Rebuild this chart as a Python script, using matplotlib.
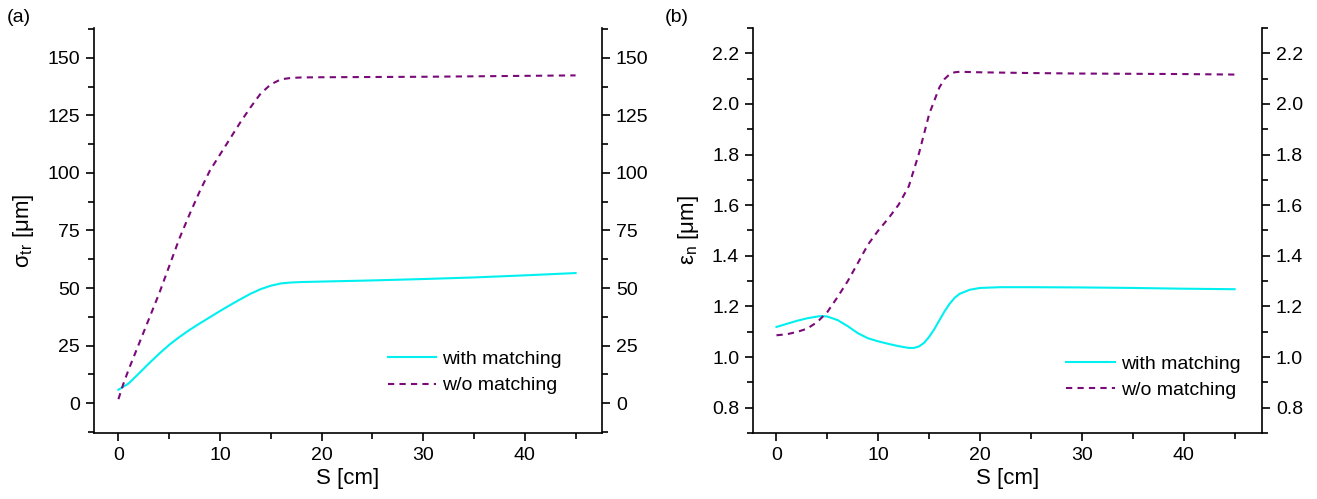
"""Beam size and emittance along S, with and without matching (two panels)."""

import matplotlib
matplotlib.use("Agg")
import matplotlib.pyplot as plt
from matplotlib.ticker import MultipleLocator

plt.rcParams["font.family"] = ["Liberation Sans", "DejaVu Sans"]
plt.rcParams["font.size"] = 14
plt.rcParams["mathtext.fontset"] = "custom"
plt.rcParams["mathtext.rm"] = "Liberation Sans"
plt.rcParams["mathtext.it"] = "Liberation Sans:italic"

CYAN = "#00f0f0"
PURPLE = "#7a0a7a"

# (a) transverse beam size sigma_tr [um] vs S [cm]
s_a_match = [0, 1, 2, 3, 4, 5, 6, 7, 8, 9, 10, 11, 12, 13, 14, 15, 16, 17,
             18, 20, 25, 30, 35, 40, 45]
sig_match = [5.8, 8.5, 12.8, 17.2, 21.4, 25.3, 28.7, 31.8, 34.6, 37.3, 40.0,
             42.6, 45.1, 47.5, 49.5, 51.0, 52.0, 52.4, 52.6, 52.8, 53.3, 53.9,
             54.6, 55.5, 56.5]
s_a_nomatch = [0, 0.5, 1, 1.5, 2, 2.5, 3, 3.5, 4, 5, 6, 7, 8, 9, 10, 11, 12,
               13, 14, 15, 16, 17, 18, 20, 25, 30, 35, 40, 45]
sig_nomatch = [1.7, 8.5, 14.5, 20.0, 25.5, 31.0, 36.5, 42.0, 47.5, 59.5, 71.5,
               82.0, 92.0, 101.0, 108.0, 115.0, 122.0, 128.5, 134.5, 138.5,
               140.7, 141.3, 141.5, 141.6, 141.7, 141.8, 142.0, 142.2, 142.4]

# (b) normalized emittance eps_n [um] vs S [cm]
s_b_match = [0, 1, 2, 3, 4, 4.5, 5, 6, 7, 8, 9, 10, 11, 12, 13, 13.5, 14,
             14.5, 15, 15.5, 16, 16.5, 17, 17.5, 18, 19, 20, 22, 25, 30, 35,
             40, 45]
eps_match = [1.119, 1.131, 1.143, 1.153, 1.160, 1.162, 1.160, 1.146, 1.122,
             1.094, 1.074, 1.062, 1.052, 1.043, 1.036, 1.036, 1.042, 1.056,
             1.080, 1.110, 1.145, 1.180, 1.210, 1.234, 1.250, 1.266, 1.273,
             1.276, 1.276, 1.275, 1.273, 1.270, 1.268]
s_b_nomatch = [0, 1, 2, 3, 4, 5, 6, 7, 8, 9, 10, 11, 12, 13, 14, 15, 16,
               16.5, 17, 17.5, 18, 20, 25, 30, 35, 40, 45]
eps_nomatch = [1.086, 1.090, 1.099, 1.112, 1.138, 1.178, 1.237, 1.300, 1.372,
               1.445, 1.500, 1.548, 1.602, 1.675, 1.805, 1.960, 2.065, 2.098,
               2.117, 2.125, 2.127, 2.125, 2.122, 2.120, 2.119, 2.118, 2.116]


def style_axes(ax, ymajor, yminor):
    ax.spines["top"].set_visible(False)
    for side in ("left", "right", "bottom"):
        ax.spines[side].set_linewidth(1.2)
    ax.xaxis.set_major_locator(MultipleLocator(10))
    ax.xaxis.set_minor_locator(MultipleLocator(5))
    ax.yaxis.set_major_locator(MultipleLocator(ymajor))
    ax.yaxis.set_minor_locator(MultipleLocator(yminor))
    ax.tick_params(which="both", direction="out", top=False, right=True,
                   labelright=True, width=1.2)
    ax.tick_params(which="major", length=6, labelsize=14, pad=4)
    ax.tick_params(which="minor", length=4)
    ax.set_xlabel("S [cm]", fontsize=16, labelpad=3)


fig = plt.figure(figsize=(13.17, 4.99), dpi=100)
ax_a = fig.add_axes([0.0714, 0.1323, 0.3857, 0.8116])
ax_b = fig.add_axes([0.5718, 0.1323, 0.3865, 0.8116])

ax_a.plot(s_a_match, sig_match, color=CYAN, lw=1.5, label="with matching")
ax_a.plot(s_a_nomatch, sig_nomatch, color=PURPLE, lw=1.5, ls=(0, (3, 2.5)),
          label="w/o matching")
ax_a.set_xlim(-2.4, 47.6)
ax_a.set_ylim(-13, 163)
style_axes(ax_a, 25, 12.5)
ax_a.set_ylabel("σ$_{\\mathrm{tr}}$ [μm]", fontsize=16, labelpad=8)
ax_a.legend(loc="lower right", bbox_to_anchor=(0.955, 0.052), frameon=False,
            fontsize=14, handlelength=2.5, handletextpad=0.3, labelspacing=0.45)

ax_b.plot(s_b_match, eps_match, color=CYAN, lw=1.5, label="with matching")
ax_b.plot(s_b_nomatch, eps_nomatch, color=PURPLE, lw=1.5, ls=(0, (3, 2.5)),
          label="w/o matching")
ax_b.set_xlim(-2.3, 47.7)
ax_b.set_ylim(0.7, 2.3)
style_axes(ax_b, 0.2, 0.1)
ax_b.set_ylabel("ε$_{\\mathrm{n}}$ [μm]", fontsize=16, labelpad=8)
ax_b.legend(loc="lower right", bbox_to_anchor=(0.992, 0.04), frameon=False,
            fontsize=14, handlelength=2.5, handletextpad=0.3, labelspacing=0.45)

fig.text(0.005, 0.965, "(a)", fontsize=14, va="center")
fig.text(0.505, 0.965, "(b)", fontsize=14, va="center")

fig.savefig("out.png", dpi=100)
